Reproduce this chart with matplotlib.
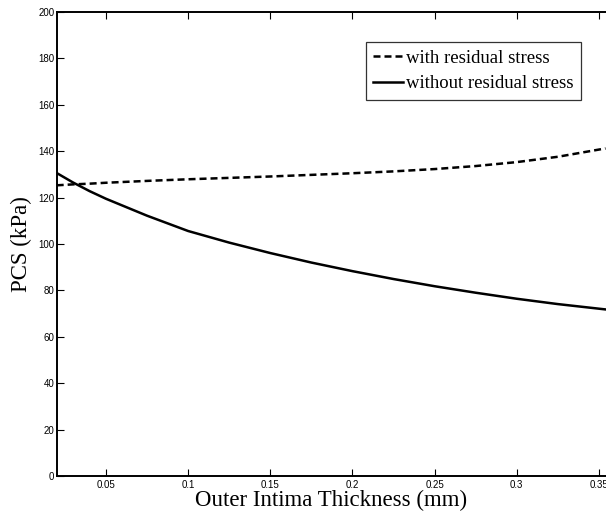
import matplotlib
matplotlib.use("Agg")
import matplotlib.pyplot as plt

# outer intima thickness (mm)
thickness = [0.02, 0.03, 0.04, 0.05, 0.075, 0.1, 0.125, 0.15, 0.175, 0.2,
             0.225, 0.25, 0.275, 0.3, 0.325, 0.354]
# PCS (kPa)
pcs_with_rs = [125.3, 125.7, 126.0, 126.4, 127.2, 127.9, 128.5, 129.1, 129.8, 130.5,
               131.3, 132.3, 133.6, 135.3, 137.6, 141.2]
pcs_without_rs = [130.6, 126.5, 122.8, 119.5, 112.2, 105.6, 100.6, 96.1, 92.0, 88.3,
                  84.9, 81.8, 79.0, 76.4, 74.1, 71.8]

xticks = [0.05, 0.1, 0.15, 0.2, 0.25, 0.3, 0.35]
xtick_labels = ["0.05", "0.1", "0.15", "0.2", "0.25", "0.3", "0.35"]
yticks = list(range(0, 201, 20))

W, H = 606, 512
fig = plt.figure(figsize=(W / 100, H / 100), dpi=100)
ax = fig.add_axes([57 / W, 1 - 476 / H, (W - 57) / W, (476 - 12) / H])

ax.plot(thickness, pcs_with_rs, color="black", lw=1.8, linestyle=(0, (2.8, 1.6)),
        label="with residual stress")
ax.plot(thickness, pcs_without_rs, color="black", lw=1.8, label="without residual stress")

ax.set_xlim(0.0202, 0.3543)
ax.set_ylim(0, 200)
ax.set_xticks(xticks)
ax.set_xticklabels(xtick_labels)
ax.set_yticks(yticks)

for s in ax.spines.values():
    s.set_linewidth(1.4)
ax.spines["right"].set_visible(False)
ax.tick_params(direction="in", length=5, width=0.8, top=True, right=False,
               labelsize=7)
ax.tick_params(axis="y", pad=2)
ax.tick_params(axis="x", pad=3)
for lab in ax.get_xticklabels() + ax.get_yticklabels():
    lab.set_family("Liberation Sans")

ax.set_xlabel("Outer Intima Thickness (mm)", family="Liberation Serif", fontsize=16.5, labelpad=0)
ax.set_ylabel("PCS (kPa)", family="Liberation Serif", fontsize=16.5, labelpad=4)

leg = ax.legend(loc="upper right", bbox_to_anchor=(0.955, 0.935),
                prop={"family": "Liberation Serif", "size": 13.5},
                frameon=True, fancybox=False, edgecolor="black",
                handlelength=1.6, handletextpad=0.15, borderpad=0.4,
                labelspacing=0.45, borderaxespad=0)
leg.get_frame().set_linewidth(0.9)

fig.savefig("out.png", dpi=100, facecolor="white")
